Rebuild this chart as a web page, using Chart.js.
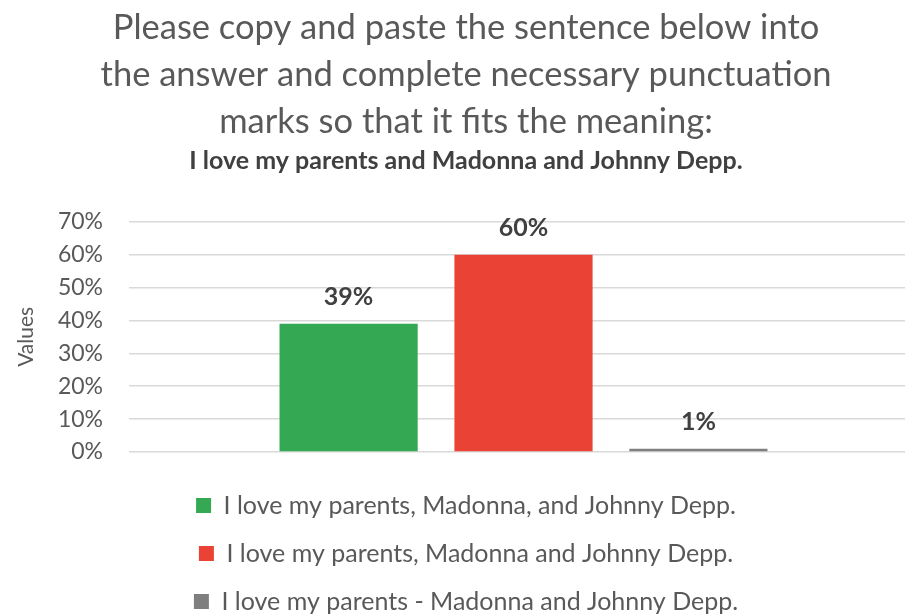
<!DOCTYPE html>
<html>
<head>
<meta charset="utf-8">
<script src="https://cdn.jsdelivr.net/npm/chart.js@4"></script>
<style>
  html, body { margin: 0; padding: 0; background: #fff; overflow: hidden; }
  #wrap { width: 918px; height: 616px; }
</style>
</head>
<body>
<div id="wrap"><canvas id="answersChart"></canvas></div>
<script>
const categories = [''];
const answerLabels = [
    'I love my parents, Madonna, and Johnny Depp.',
    'I love my parents, Madonna and Johnny Depp.',
    'I love my parents - Madonna and Johnny Depp.'
];
const answerValues = [39, 60, 1];
const answerColors = ['#34A853', '#EA4335', '#7F7F7F'];
const yTicks = [0, 10, 20, 30, 40, 50, 60, 70];

const fontFamily = 'Lato, "Open Sans", sans-serif';

// bold % above each bar
const valueLabels = {
    id: 'valueLabels',
    afterDatasetsDraw(chart) {
        const ctx = chart.ctx;
        ctx.save();
        ctx.font = 'bold 25px ' + fontFamily;
        ctx.fillStyle = '#404040';
        ctx.textAlign = 'center';
        ctx.textBaseline = 'middle';
        chart.data.datasets.forEach((ds, i) => {
            chart.getDatasetMeta(i).data.forEach((bar, j) => {
                ctx.fillText(ds.data[j] + '%', bar.x, bar.y - 27);
            });
        });
        ctx.restore();
    }
};

const datasets = answerLabels.map((label, i) => ({
    label: label,
    data: [answerValues[i]],
    backgroundColor: answerColors[i],
    borderWidth: 0,
    categoryPercentage: 0.665,
    barPercentage: 0.79
}));

new Chart(document.getElementById('answersChart').getContext('2d'), {
    type: 'bar',
    data: {
        labels: categories,
        datasets: datasets
    },
    options: {
        responsive: true,
        maintainAspectRatio: false,
        animation: false,
        layout: { padding: { left: 14, right: 0, top: 0, bottom: -8 } },
        plugins: {
            title: {
                display: true,
                text: [
                    'Please copy and paste the sentence below into',
                    'the answer and complete necessary punctuation',
                    'marks so that it fits the meaning:'
                ],
                color: '#595959',
                font: { family: fontFamily, size: 34.5, weight: 'normal', lineHeight: 1.37 },
                padding: { top: 4, bottom: 0 }
            },
            subtitle: {
                display: true,
                text: 'I love my parents and Madonna and Johnny Depp.',
                color: '#404040',
                font: { family: fontFamily, size: 25, weight: 'bold' },
                padding: { top: 0, bottom: 46 }
            },
            legend: {
                position: 'bottom',
                labels: {
                    color: '#595959',
                    font: { family: fontFamily, size: 25 },
                    boxWidth: 15,
                    boxHeight: 15,
                    padding: 23
                }
            },
            tooltip: { enabled: false }
        },
        scales: {
            x: {
                grid: { display: false },
                border: { display: false },
                ticks: { display: false },
                afterFit(axis) {
                    axis.height = 18;
                }
            },
            y: {
                min: 0,
                max: 70,
                afterBuildTicks(axis) {
                    axis.ticks = yTicks.map(v => ({ value: v }));
                },
                afterFit(axis) {
                    axis.width = 115;
                },
                grid: { color: '#D9D9D9', lineWidth: 1.5, drawTicks: false },
                border: { display: false },
                ticks: {
                    color: '#595959',
                    font: { family: fontFamily, size: 23 },
                    padding: 26,
                    callback: v => v + '%'
                },
                title: {
                    display: true,
                    text: 'Values',
                    color: '#595959',
                    font: { family: fontFamily, size: 21 },
                    padding: { top: 0, bottom: 6 }
                }
            }
        }
    },
    plugins: [valueLabels]
});
</script>
</body>
</html>
